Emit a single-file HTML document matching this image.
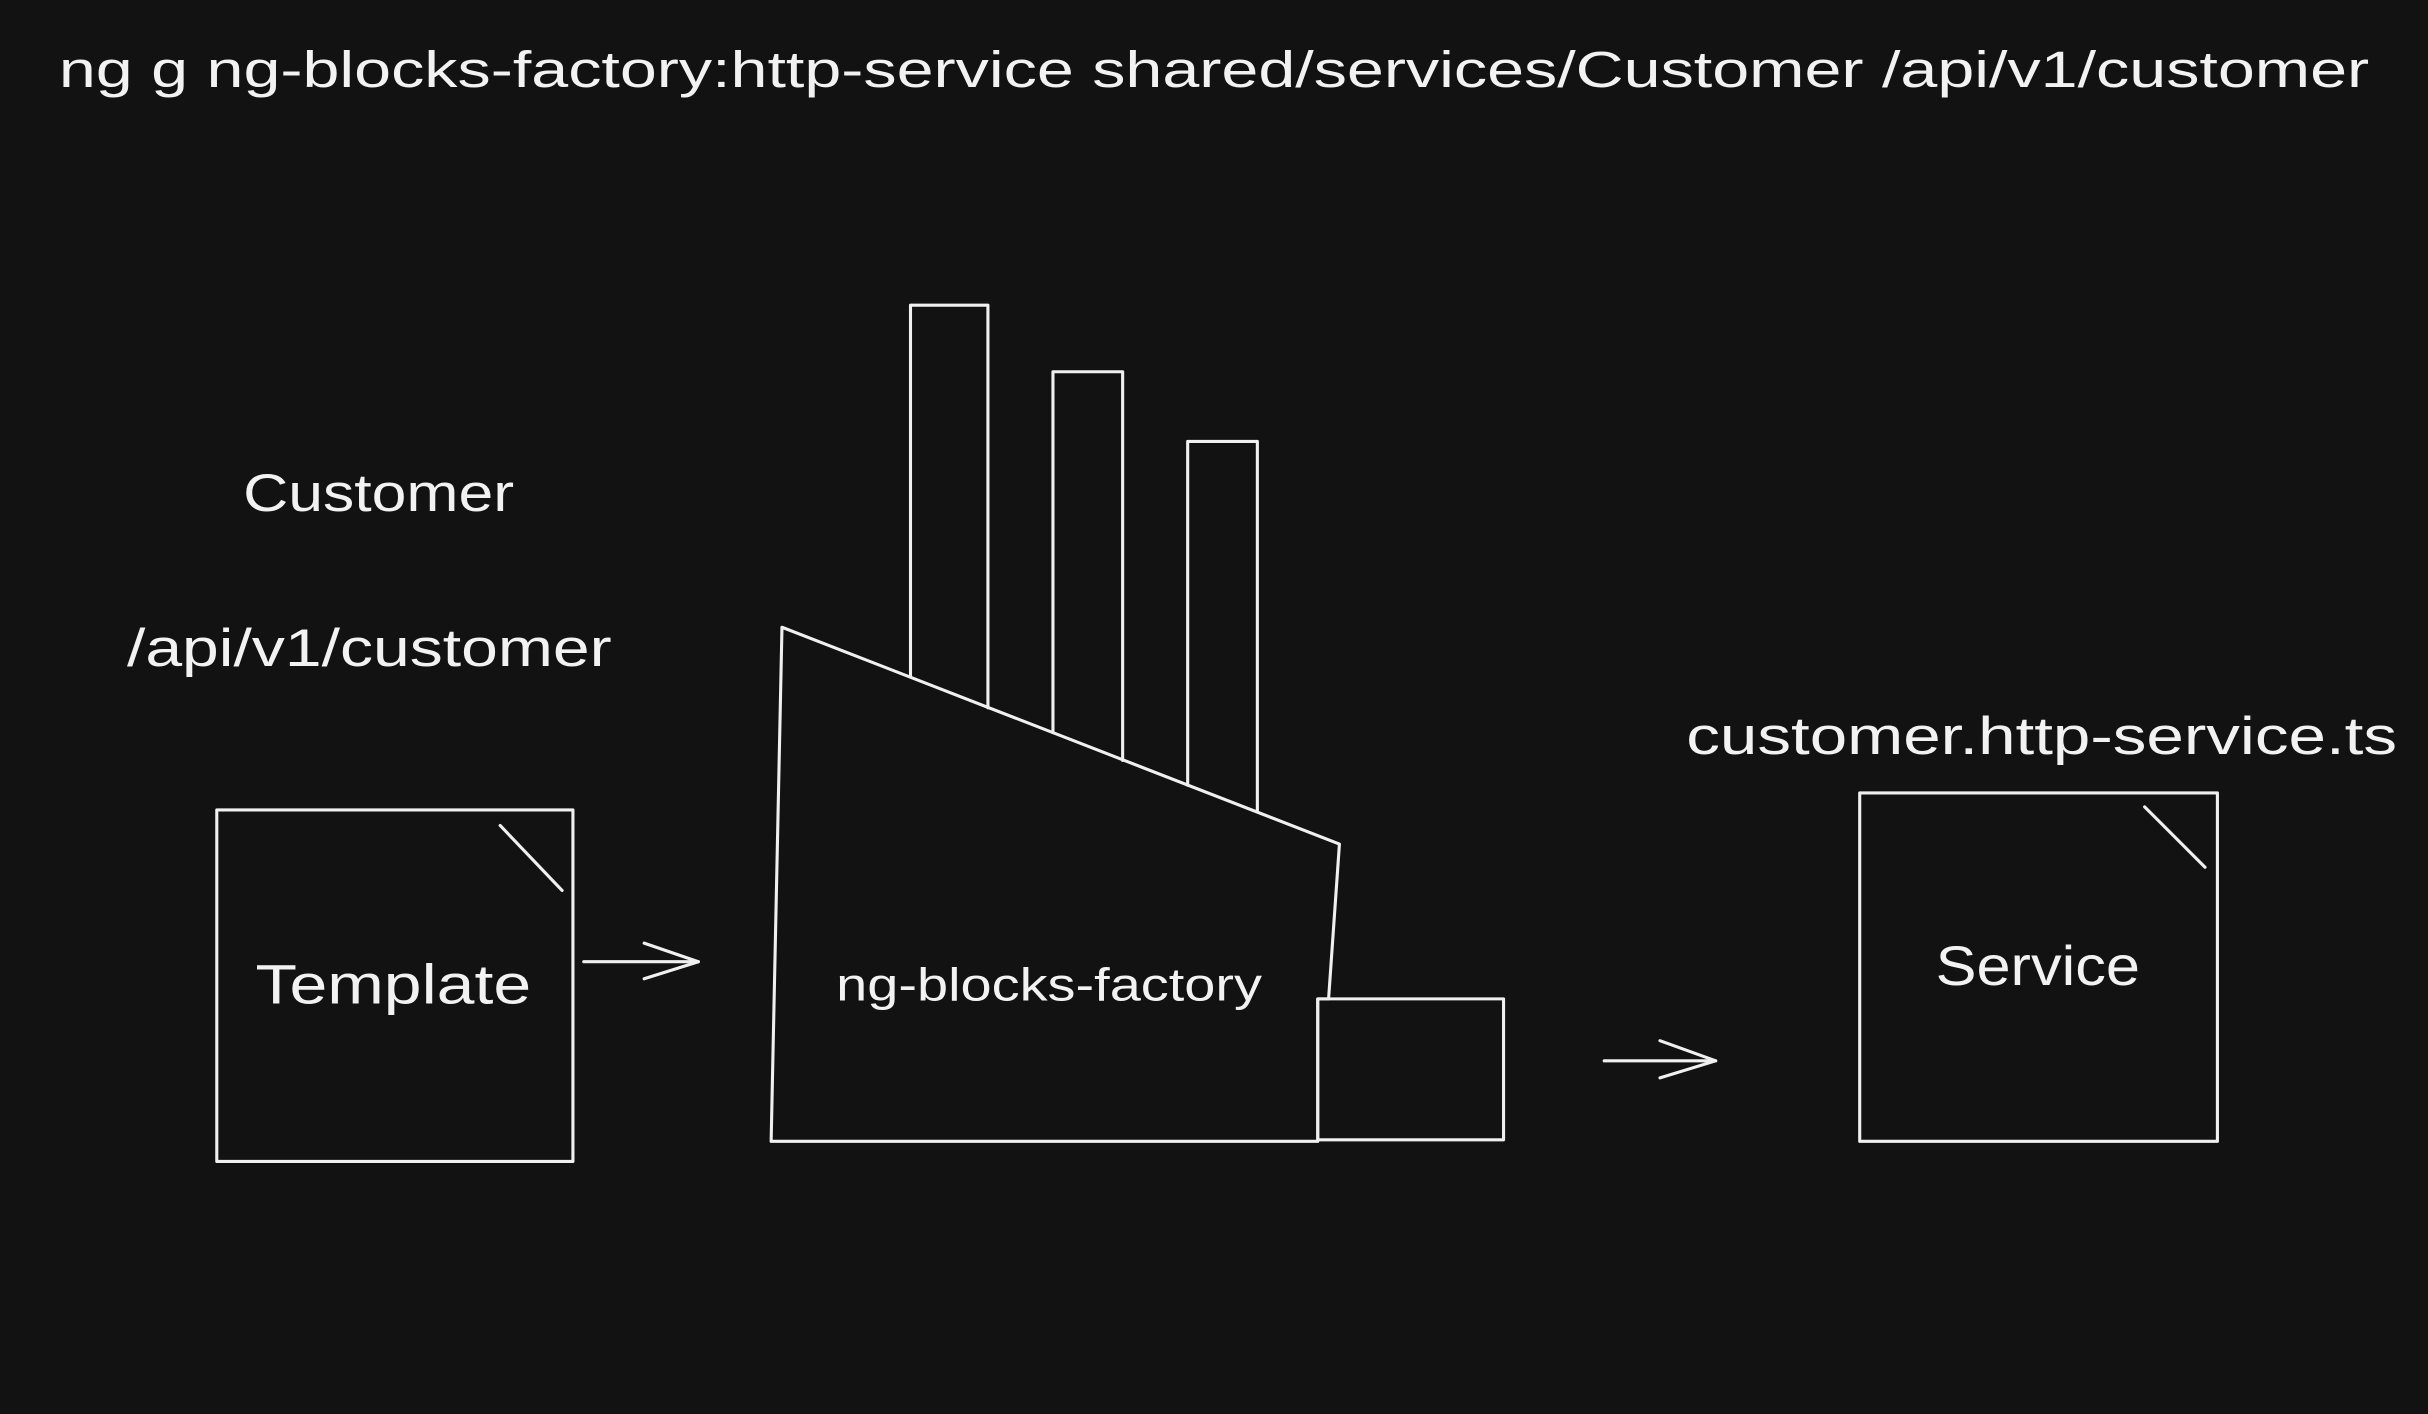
<!DOCTYPE html>
<html><head><meta charset="utf-8"><style>
html,body{margin:0;padding:0;background:#121212;}
svg{display:block;}
text{font-family:"Liberation Sans",sans-serif;fill:#f2f2f2;}
</style></head><body>
<svg width="2428" height="1414" viewBox="0 0 1568 913" xmlns="http://www.w3.org/2000/svg">
<rect width="1568" height="913" fill="#121212"/>
<g fill="none" stroke="#f0f0f0" stroke-width="2" stroke-linecap="round" stroke-linejoin="round">
<rect x="140" y="523" width="230" height="227"/>
<line x1="323" y1="533" x2="363" y2="575"/>
<line x1="377" y1="621" x2="451" y2="621"/>
<polyline points="416,609 451,621 416,632"/>
<polygon points="505,405 865,545 858,645 851,645 851,737 498,737"/>
<polyline points="588,437 588,197 638,197 638,457"/>
<polyline points="680,473 680,240 725,240 725,491"/>
<polyline points="767,507 767,285 812,285 812,524"/>
<rect x="851" y="645" width="120" height="91"/>
<line x1="1036" y1="685" x2="1108" y2="685"/>
<polyline points="1072,672 1108,685 1072,696"/>
<rect x="1201" y="512" width="231" height="225"/>
<line x1="1385" y1="521" x2="1424" y2="560"/>
</g>
<text x="38" y="56" font-size="33" textLength="1492" lengthAdjust="spacingAndGlyphs">ng g ng-blocks-factory:http-service shared/services/Customer /api/v1/customer</text>
<text x="157" y="330" font-size="34" textLength="175" lengthAdjust="spacingAndGlyphs">Customer</text>
<text x="82" y="430" font-size="34" textLength="313" lengthAdjust="spacingAndGlyphs">/api/v1/customer</text>
<text x="165" y="648" font-size="36" textLength="178" lengthAdjust="spacingAndGlyphs">Template</text>
<text x="540" y="646" font-size="30" textLength="275" lengthAdjust="spacingAndGlyphs">ng-blocks-factory</text>
<text x="1089" y="487" font-size="34" textLength="459" lengthAdjust="spacingAndGlyphs">customer.http-service.ts</text>
<text x="1250" y="636" font-size="36" textLength="132" lengthAdjust="spacingAndGlyphs">Service</text>
</svg>
</body></html>
